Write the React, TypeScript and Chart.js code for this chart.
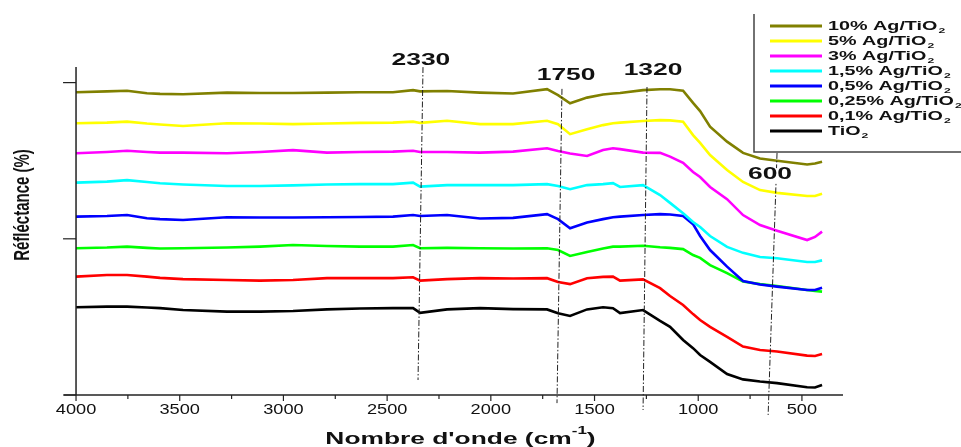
import React, { useEffect, useRef } from "react";
import { Chart, registerables } from "chart.js";

Chart.register(...registerables);

// ---- Data ----
const WAVENUMBERS = [
  4000, 3851, 3754, 3658, 3595, 3484, 3272, 3113, 2954, 2790, 2631, 2472, 2375, 2341,
  2211, 2052, 1893, 1729, 1676, 1618, 1536, 1459, 1411, 1377, 1266, 1184, 1136, 1073,
  1025, 991, 943, 861, 784, 702, 620, 475, 437, 403,
];

const LABELS = [
  "10% Ag/TiO₂", "5% Ag/TiO₂", "3% Ag/TiO₂", "1,5% Ag/TiO₂",
  "0,5% Ag/TiO₂", "0,25% Ag/TiO₂", "0,1% Ag/TiO₂", "TiO₂",
];

const COLORS = ["#808000", "#ffff00", "#ff00ff", "#00ffff", "#0000ff", "#00ff00", "#ff0000", "#000000"];

const AG10 = [96.9, 97.2, 97.4, 96.6, 96.4, 96.3, 96.8, 96.7, 96.7, 96.8, 96.9, 96.9, 97.6, 97.2,
  97.3, 96.8, 96.5, 97.9, 96.0, 93.4, 95.2, 96.2, 96.5, 96.7, 97.6, 97.9, 97.9, 97.4,
  93.5, 90.9, 85.9, 81.1, 77.5, 75.7, 75.0, 73.8, 74.1, 74.7];
const AG5 = [87.0, 87.2, 87.5, 86.9, 86.6, 86.1, 87.0, 86.9, 86.7, 86.9, 87.1, 87.2, 87.5, 87.1,
  87.8, 86.7, 86.7, 87.8, 86.7, 83.5, 85.1, 86.4, 87.0, 87.2, 87.7, 88.0, 87.9, 87.5,
  83.2, 80.7, 76.8, 72.0, 68.2, 65.6, 64.7, 63.7, 63.7, 64.4];
const AG3 = [77.4, 77.8, 78.2, 77.8, 77.6, 77.6, 77.4, 77.8, 78.4, 77.6, 77.8, 77.9, 78.2, 77.8,
  77.8, 77.6, 77.9, 79.0, 78.1, 77.3, 76.5, 78.4, 79.0, 78.7, 77.6, 77.5, 76.3, 74.3,
  71.4, 69.8, 66.6, 62.7, 57.6, 54.4, 52.6, 49.6, 50.6, 52.3];
const AG1_5 = [68.0, 68.3, 68.8, 68.2, 67.8, 67.4, 66.9, 66.9, 67.1, 67.4, 67.5, 67.5, 68.0, 66.7,
  67.2, 67.2, 67.2, 67.5, 66.9, 65.9, 67.2, 67.5, 67.8, 66.6, 67.2, 64.0, 61.5, 58.2,
  55.4, 53.8, 50.9, 47.4, 45.5, 44.2, 43.8, 42.6, 42.6, 43.1];
const AG0_5 = [57.1, 57.3, 57.6, 56.6, 56.3, 56.0, 56.9, 56.8, 56.8, 56.9, 57.0, 57.1, 57.6, 57.3,
  57.6, 56.5, 56.7, 57.9, 56.3, 53.4, 55.2, 56.3, 56.9, 57.1, 57.6, 57.9, 57.8, 57.3,
  54.7, 50.9, 46.4, 41.1, 36.5, 35.4, 34.7, 33.6, 33.6, 34.3];
const AG0_25 = [47.0, 47.2, 47.5, 47.1, 46.9, 47.0, 47.2, 47.5, 48.0, 47.7, 47.5, 47.5, 48.0, 47.0,
  47.1, 47.0, 46.9, 47.0, 46.4, 44.5, 45.8, 46.9, 47.5, 47.5, 47.8, 47.3, 47.1, 46.7,
  44.8, 43.9, 41.6, 39.0, 36.3, 35.5, 34.9, 33.6, 33.3, 33.1];
const AG0_1 = [37.9, 38.4, 38.4, 37.9, 37.5, 37.1, 36.8, 36.6, 36.8, 37.4, 37.4, 37.4, 37.7, 36.6,
  37.1, 37.4, 37.3, 37.4, 36.2, 35.5, 37.4, 37.8, 37.9, 36.6, 37.0, 34.2, 31.7, 28.8,
  25.9, 24.0, 21.8, 18.6, 15.5, 14.4, 13.9, 12.6, 12.5, 13.1];
const TIO2 = [28.1, 28.3, 28.3, 28.0, 27.8, 27.2, 26.7, 26.7, 26.9, 27.4, 27.7, 27.8, 27.8, 26.3,
  27.4, 27.8, 27.5, 27.4, 26.2, 25.3, 27.4, 28.1, 27.8, 26.2, 27.2, 23.7, 21.8, 17.6,
  15.0, 12.8, 10.6, 6.7, 5.0, 4.3, 3.8, 2.5, 2.4, 3.2];

const SERIES_VALUES = [AG10, AG5, AG3, AG1_5, AG0_5, AG0_25, AG0_1, TIO2];

const X_TICKS = [4000, 3500, 3000, 2500, 2000, 1500, 1000, 500];
const X_MINOR = [3750, 3250, 2750, 2250, 1750, 1250, 750];
const Y_TICKS = [0, 50, 100];

// Peak markers: label, label position, line top and bottom (wavenumber, reflectance)
const MARK_LABELS = ["2330", "1750", "1320", "600"];
const MARK_LABEL_POS = [[2337, 107.2], [1637, 102.4], [1218, 103.7], [654, 70.4]];
const MARK_LINE_TOP = [[2327, 105], [1657, 98.0], [1247, 98.6], [620, 77.5]];
const MARK_LINE_BOTTOM = [[2351, 4.8], [1681, -2.6], [1266, -4.8], [663, -6.4]];

const X_TITLE = "Nombre d'onde (cm⁻¹)";
const Y_TITLE = "Réfléctance (%)";

const FONT = "'Liberation Sans', Arial, sans-serif";

function drawStretched(ctx: CanvasRenderingContext2D, text: string, x: number, y: number, font: string, sx: number, align: CanvasTextAlign) {
  ctx.save();
  ctx.font = font;
  ctx.translate(x, y);
  ctx.scale(sx, 1);
  ctx.textAlign = align;
  ctx.textBaseline = "middle";
  ctx.fillText(text, 0, 0);
  ctx.restore();
}

function textWidth(ctx: CanvasRenderingContext2D, text: string, font: string, sx: number) {
  ctx.save();
  ctx.font = font;
  const w = ctx.measureText(text).width * sx;
  ctx.restore();
  return w;
}

const overlay = {
  id: "overlay",
  afterDatasetsDraw(chart: any) {
    const ctx: CanvasRenderingContext2D = chart.ctx;
    const xs = chart.scales.x;
    const ys = chart.scales.y;
    const area = chart.chartArea;
    ctx.save();
    ctx.fillStyle = "#111";
    ctx.strokeStyle = "#222";

    // x axis line
    ctx.lineWidth = 1.5;
    ctx.beginPath();
    ctx.moveTo(area.left, area.bottom);
    ctx.lineTo(area.right, area.bottom);
    ctx.stroke();

    // y axis line at first wavenumber
    const yAxisX = xs.getPixelForValue(X_TICKS[0]);
    ctx.beginPath();
    ctx.moveTo(yAxisX, area.top);
    ctx.lineTo(yAxisX, area.bottom);
    ctx.stroke();

    // y ticks (outward)
    ctx.lineWidth = 1.2;
    Y_TICKS.forEach((v) => {
      const py = ys.getPixelForValue(v);
      ctx.beginPath();
      ctx.moveTo(yAxisX - 13, py);
      ctx.lineTo(yAxisX, py);
      ctx.stroke();
    });

    // x ticks
    xs.ticks.forEach((t: any) => {
      const px = xs.getPixelForValue(t.value);
      ctx.beginPath();
      ctx.moveTo(px, area.bottom);
      ctx.lineTo(px, area.bottom + 6);
      ctx.stroke();
      drawStretched(ctx, String(t.value), px, area.bottom + 15, `14px ${FONT}`, 1.3, "center");
    });
    X_MINOR.forEach((v) => {
      const px = xs.getPixelForValue(v);
      ctx.beginPath();
      ctx.moveTo(px, area.bottom);
      ctx.lineTo(px, area.bottom + 4);
      ctx.stroke();
    });

    // x title with superscript
    {
      const [main, rest] = X_TITLE.split("cm⁻¹");
      const fMain = `bold 17px ${FONT}`;
      const fSup = `bold 11px ${FONT}`;
      const sx = 1.55;
      const p1 = main + "cm";
      const sup = "-1";
      const p3 = rest;
      const w1 = textWidth(ctx, p1, fMain, sx);
      const w2 = textWidth(ctx, sup, fSup, sx);
      const w3 = textWidth(ctx, p3, fMain, sx);
      const total = w1 + w2 + w3;
      const cx = (area.left + area.right) / 2 + 7;
      const x0 = cx - total / 2;
      const ty = 439;
      drawStretched(ctx, p1, x0, ty, fMain, sx, "left");
      drawStretched(ctx, sup, x0 + w1, ty - 8, fSup, sx, "left");
      drawStretched(ctx, p3, x0 + w1 + w2, ty, fMain, sx, "left");
    }

    // y title (rotated)
    {
      ctx.save();
      ctx.font = `bold 15px ${FONT}`;
      ctx.translate(23, 205);
      ctx.scale(1.45, 1);
      ctx.rotate(-Math.PI / 2);
      ctx.textAlign = "center";
      ctx.textBaseline = "middle";
      ctx.fillText(Y_TITLE, 0, 0);
      ctx.restore();
    }

    // peak marker lines
    ctx.save();
    ctx.setLineDash([6, 2, 1.5, 2]);
    ctx.lineWidth = 1;
    ctx.strokeStyle = "#222";
    MARK_LABELS.forEach((_, i) => {
      ctx.beginPath();
      ctx.moveTo(xs.getPixelForValue(MARK_LINE_TOP[i][0]), ys.getPixelForValue(MARK_LINE_TOP[i][1]));
      ctx.lineTo(xs.getPixelForValue(MARK_LINE_BOTTOM[i][0]), ys.getPixelForValue(MARK_LINE_BOTTOM[i][1]));
      ctx.stroke();
    });
    ctx.restore();
    MARK_LABELS.forEach((lab, i) => {
      const px = xs.getPixelForValue(MARK_LABEL_POS[i][0]);
      const py = ys.getPixelForValue(MARK_LABEL_POS[i][1]);
      ctx.save();
      ctx.font = `bold 16px ${FONT}`;
      const w = ctx.measureText(lab).width * 1.65;
      ctx.fillStyle = "#fff";
      ctx.fillRect(px - w / 2 - 1, py - 7, w + 2, 14);
      ctx.restore();
      drawStretched(ctx, lab, px, py, `bold 16px ${FONT}`, 1.65, "center");
    });

    // legend
    ctx.strokeStyle = "#444";
    ctx.lineWidth = 1.5;
    ctx.beginPath();
    ctx.moveTo(754, 14);
    ctx.lineTo(754, 152);
    ctx.lineTo(chart.width, 152);
    ctx.stroke();
    chart.data.datasets.forEach((ds: any, i: number) => {
      const ly = 26 + i * 15;
      ctx.strokeStyle = ds.borderColor;
      ctx.lineWidth = 3;
      ctx.beginPath();
      ctx.moveTo(770, ly);
      ctx.lineTo(822, ly);
      ctx.stroke();
      const label: string = ds.label;
      const hasSub = label.endsWith("₂");
      const main = hasSub ? label.slice(0, -1) : label;
      const fMain = `bold 13px ${FONT}`;
      drawStretched(ctx, main, 828, ly + 0.5, fMain, 1.52, "left");
      if (hasSub) {
        const w = textWidth(ctx, main, fMain, 1.52);
        drawStretched(ctx, "2", 828 + w + 1, ly + 5, `bold 8px ${FONT}`, 1.52, "left");
      }
    });
    ctx.restore();
  },
};

export default function App() {
  const ref = useRef<HTMLCanvasElement | null>(null);
  useEffect(() => {
    if (!ref.current) return;
    const chart = new Chart(ref.current, {
      type: "line",
      data: {
        datasets: LABELS.map((label, i) => ({
          label,
          data: WAVENUMBERS.map((w, j) => ({ x: w, y: SERIES_VALUES[i][j] })),
          borderColor: COLORS[i],
          backgroundColor: COLORS[i],
          borderWidth: 2.6,
          pointRadius: 0,
          tension: 0,
          fill: false,
        })),
      },
      options: {
        animation: false,
        responsive: false,
        maintainAspectRatio: false,
        layout: { padding: { top: 67, right: 118, bottom: 0, left: 0 } },
        plugins: { legend: { display: false }, tooltip: { enabled: false } },
        scales: {
          x: {
            type: "linear",
            reverse: true,
            min: 302,
            max: 4058,
            afterBuildTicks: (s: any) => {
              s.ticks = X_TICKS.map((v) => ({ value: v }));
            },
            ticks: { display: false },
            grid: { display: false },
            border: { display: false },
            afterFit: (s: any) => {
              s.height = 52;
            },
          },
          y: {
            min: 0,
            max: 105,
            ticks: { display: false },
            grid: { display: false },
            border: { display: false },
            afterFit: (s: any) => {
              s.width = 64;
            },
          },
        },
      },
      plugins: [overlay],
    });
    return () => chart.destroy();
  }, []);
  return (
    <div style={{ position: "fixed", left: 0, top: 0, width: 961, height: 447, background: "#fff" }}>
      <canvas ref={ref} width={961} height={447} style={{ display: "block" }} />
    </div>
  );
}
